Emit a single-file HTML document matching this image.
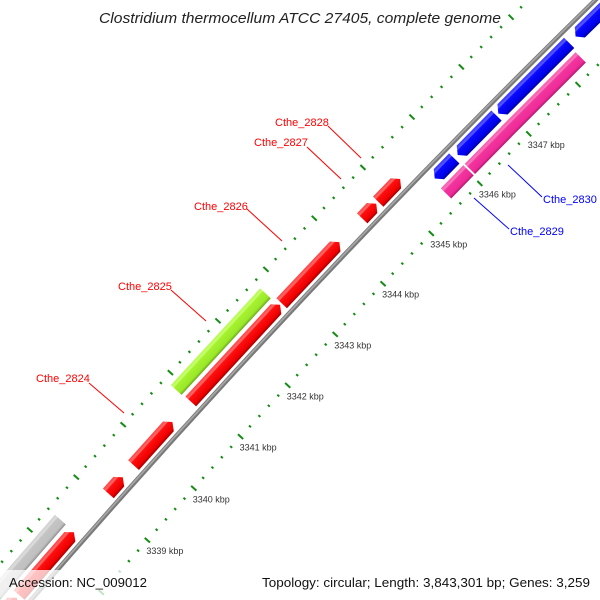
<!DOCTYPE html>
<html><head><meta charset="utf-8"><style>
html,body{margin:0;padding:0;background:#fff;width:600px;height:600px;overflow:hidden;}
svg{display:block;font-family:"Liberation Sans",sans-serif;overflow:hidden;}
</style></head><body>
<svg id="map" width="600" height="600" viewBox="0 0 600 600" xmlns="http://www.w3.org/2000/svg">
<defs>
<linearGradient id="gRed" x1="0" y1="0" x2="1" y2="0"><stop offset="0" stop-color="#a00000"/><stop offset="0.2" stop-color="#ee0000"/><stop offset="0.7" stop-color="#ff1010"/><stop offset="0.78" stop-color="#ff6a6a"/><stop offset="1" stop-color="#ff4040"/></linearGradient>
<linearGradient id="gBlue" x1="0" y1="0" x2="1" y2="0"><stop offset="0" stop-color="#00009a"/><stop offset="0.2" stop-color="#0000e8"/><stop offset="0.7" stop-color="#0a0aff"/><stop offset="0.78" stop-color="#5a5aff"/><stop offset="1" stop-color="#3030ff"/></linearGradient>
<linearGradient id="gPink" x1="0" y1="0" x2="1" y2="0"><stop offset="0" stop-color="#b0186c"/><stop offset="0.2" stop-color="#ee2a98"/><stop offset="0.7" stop-color="#f2359e"/><stop offset="0.78" stop-color="#f878bd"/><stop offset="1" stop-color="#f55aad"/></linearGradient>
<linearGradient id="gLime" x1="0" y1="0" x2="1" y2="0"><stop offset="0" stop-color="#6aa818"/><stop offset="0.2" stop-color="#9ae82a"/><stop offset="0.7" stop-color="#a6f230"/><stop offset="0.78" stop-color="#c8ff70"/><stop offset="1" stop-color="#b4fa50"/></linearGradient>
<linearGradient id="gGrey" x1="0" y1="0" x2="1" y2="0"><stop offset="0" stop-color="#909090"/><stop offset="0.2" stop-color="#c0c0c0"/><stop offset="0.7" stop-color="#c4c4c4"/><stop offset="0.78" stop-color="#dcdcdc"/><stop offset="1" stop-color="#d0d0d0"/></linearGradient>
<linearGradient id="gGreen" x1="0" y1="0" x2="1" y2="0"><stop offset="0" stop-color="#137a13"/><stop offset="0.2" stop-color="#22aa22"/><stop offset="0.78" stop-color="#55cc55"/><stop offset="1" stop-color="#33bb33"/></linearGradient>
</defs>
<g id="ticks"></g>
<g id="backbone"></g>
<g id="genes"></g>
<g id="tickLabels" font-size="9" fill="#333"></g>

<text x="300" y="23" text-anchor="middle" font-size="14.5" font-style="italic" fill="#222" textLength="402" lengthAdjust="spacingAndGlyphs">Clostridium thermocellum ATCC 27405, complete genome</text>

<g font-size="11">
<g><text x="275" y="126" fill="#f00">Cthe_2828</text><line x1="328" y1="126" x2="361" y2="158" stroke="#f00" stroke-width="1"/></g>
<g><text x="254" y="146" fill="#f00">Cthe_2827</text><line x1="307" y1="147" x2="341" y2="179" stroke="#f00" stroke-width="1"/></g>
<g><text x="194" y="210" fill="#f00">Cthe_2826</text><line x1="247" y1="209" x2="282" y2="241" stroke="#f00" stroke-width="1"/></g>
<g><text x="118" y="290" fill="#f00">Cthe_2825</text><line x1="171" y1="290" x2="206" y2="321" stroke="#f00" stroke-width="1"/></g>
<g><text x="36" y="382" fill="#f00">Cthe_2824</text><line x1="89" y1="383" x2="124" y2="413" stroke="#f00" stroke-width="1"/></g>
<g><text x="543" y="203" fill="#00f">Cthe_2830</text><line x1="542" y1="197" x2="508" y2="165" stroke="#00f" stroke-width="1"/></g>
<g><text x="510" y="235" fill="#00f">Cthe_2829</text><line x1="509" y1="229" x2="474" y2="198" stroke="#00f" stroke-width="1"/></g>
</g>

<rect x="0" y="570" width="156" height="30" fill="#fff" fill-opacity="0.75"/>
<rect x="256" y="570" width="344" height="30" fill="#fff" fill-opacity="0.75"/>
<text x="9" y="587" font-size="13" fill="#111" textLength="138" lengthAdjust="spacingAndGlyphs">Accession: NC_009012</text>
<text x="262" y="587" font-size="13" fill="#111" textLength="328" lengthAdjust="spacingAndGlyphs">Topology: circular; Length: 3,843,301 bp; Genes: 3,259</text>
</svg>
<script>
// ---- data ----
const fwdStarts = [3336.5, 3337.2, 3339.13, 3339.67, 3340.89, 3342.8, 3344.47, 3344.8];
const fwdEnds   = [3337.15, 3338.39, 3339.44, 3340.5, 3342.77, 3344.0, 3344.76, 3345.25];
const revStarts = [3345.6, 3346.07, 3346.9, 3348.46];
const revEnds   = [3346.0, 3346.86, 3348.33, 3349.6];
const cogFwdStarts = [3335.9, 3337.0, 3340.87];
const cogFwdEnds   = [3337.1, 3338.4, 3342.75];
const cogFwdColors = ['gGreen', 'gGrey', 'gLime'];
const cogRevStarts = [3345.56, 3346.05, 3346.79];
const cogRevEnds   = [3346.02, 3346.79, 3348.3];
const tickMajors = [3336, 3337, 3338, 3339, 3340, 3341, 3342, 3343, 3344, 3345, 3346, 3347, 3348, 3349];
const tickLabelValues = [3339, 3340, 3341, 3342, 3343, 3344, 3345, 3346, 3347];

// ---- geometry (circular axis) ----
const CX = 7594, CY = 7147, RB = 10003;
const A0 = -138.42, DEG_PER_KBP = 0.401, REF = 3339;
const NS = 'http://www.w3.org/2000/svg';
function ang(kbp){ return A0 + (kbp - REF) * DEG_PER_KBP; }
function pt(kbp, r){ const a = ang(kbp) * Math.PI / 180; return [CX + r * Math.cos(a), CY + r * Math.sin(a)]; }
function mk(tag, attrs, parent){ const e = document.createElementNS(NS, tag); for (const k in attrs) e.setAttribute(k, attrs[k]); parent.appendChild(e); return e; }

// backbone
const bb = document.getElementById('backbone');
const bbOuter = mk('circle', {cx: CX, cy: CY, r: RB, fill: 'none', stroke: '#7a7a7a', 'stroke-width': 4.6}, bb);


const bbInner = mk('circle', {cx: CX, cy: CY, r: RB + 0.6, fill: 'none', stroke: '#a8a8a8', 'stroke-width': 1.6}, bb);



// ticks (minor every 0.2 kbp)
const tg = document.getElementById('ticks');
const tickRadii = [RB - 48, RB + 47];
const kMin = tickMajors[0], kMax = tickMajors[tickMajors.length - 1];
for (const tr of tickRadii) {
  for (let i = 0; i <= Math.round((kMax - kMin) * 5); i++) {
    const k = kMin + i / 5;
    const major = (i % 5 === 0);
    const half = major ? 3.5 : 1.3;
    const p1 = pt(k, tr - half), p2 = pt(k, tr + half);
    const ln = mk('line', {x1: p1[0], y1: p1[1], x2: p2[0], y2: p2[1], stroke: '#148c14', 'stroke-width': 2}, tg);
    
    
  }
}
// tick labels
const tl = document.getElementById('tickLabels');
for (const v of tickLabelValues) {
  const p = pt(v, RB - 48);
  const t = mk('text', {x: p[0] - 1, y: p[1] + 14}, tl);
  t.textContent = v + ' kbp';
  
  
}

// genes
const gg = document.getElementById('genes');
function gene(s, e, r1, r2, fill, dir, name){
  const mid = (s + e) / 2;
  const g = mk('g', {transform: 'translate(' + CX + ' ' + CY + ') rotate(' + ang(mid) + ') translate(' + RB + ' 0)'}, gg);
  const ys = RB * (ang(s) - ang(mid)) * Math.PI / 180;
  const ye = RB * (ang(e) - ang(mid)) * Math.PI / 180;
  const rm = (r1 + r2) / 2, h = Math.min(6, (ye - ys) * 0.6);
  let pts;
  if (dir > 0) pts = [[r1, ys], [r2, ys], [r2, ye - h], [rm, ye], [r1, ye - h]];
  else if (dir < 0) pts = [[r1, ys + h], [rm, ys], [r2, ys + h], [r2, ye], [r1, ye]];
  else pts = [[r1, ys], [r2, ys], [r2, ye], [r1, ye]];
  const p = mk('polygon', {points: pts.map(q => q[0].toFixed(2) + ',' + q[1].toFixed(2)).join(' '), fill: 'url(#' + fill + ')'}, g);
  
  
}
for (let i = 0; i < fwdStarts.length; i++) gene(fwdStarts[i], fwdEnds[i], 5, 19.5, 'gRed', 1, 'forward-gene');
for (let i = 0; i < cogFwdStarts.length; i++) gene(cogFwdStarts[i], cogFwdEnds[i], 23.5, 38, cogFwdColors[i], 0, 'forward-cog-block');
for (let i = 0; i < revStarts.length; i++) gene(revStarts[i], revEnds[i], -19.5, -5, 'gBlue', -1, 'reverse-gene');
for (let i = 0; i < cogRevStarts.length; i++) gene(cogRevStarts[i], cogRevEnds[i], -38, -23.5, 'gPink', 0, 'reverse-cog-block');
</script>
</body></html>
